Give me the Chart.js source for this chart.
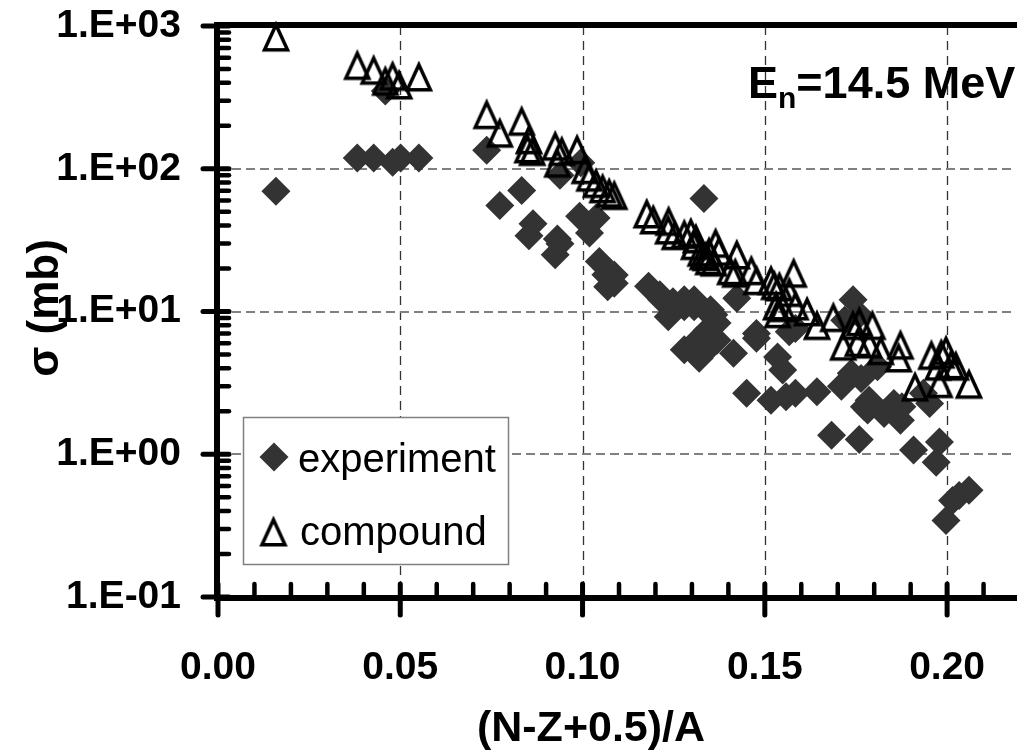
<!DOCTYPE html>
<html><head><meta charset="utf-8">
<script src="https://cdn.jsdelivr.net/npm/chart.js@4"></script>
<style>html,body{margin:0;padding:0;background:#fff;overflow:hidden}#wrap{width:1027px;height:751px;position:relative}</style>
</head><body><div id="wrap"><canvas id="c" width="1027" height="751"></canvas></div>
<script>
// ---- data ----
const xTickValues = [0, 0.05, 0.10, 0.15, 0.20];
const xTickLabels = ['0.00', '0.05', '0.10', '0.15', '0.20'];
const yTickValues = [0.1, 1, 10, 100, 1000];
const yTickLabels = ['1.E-01', '1.E+00', '1.E+01', '1.E+02', '1.E+03'];
const seriesNames = ['experiment', 'compound'];

const expX = [0.0159,0.0382,0.0427,0.0459,0.0479,0.0501,0.0551,0.0737,0.0773,0.0833,0.0853,0.0864,0.0925,0.0931,0.0938,0.0938,0.0992,0.0995,0.1019,0.1037,0.1046,0.1064,0.1069,0.1087,0.1087,0.1181,0.1212,0.1217,0.1235,0.1248,0.1279,0.1279,0.1279,0.1306,0.1306,0.1315,0.1320,0.1333,0.1342,0.1347,0.1351,0.1351,0.1360,0.1369,0.1369,0.1414,0.1423,0.1450,0.1477,0.1477,0.1517,0.1535,0.1549,0.1558,0.1567,0.1584,0.1584,0.1643,0.1683,0.1710,0.1719,0.1737,0.1742,0.1759,0.1759,0.1764,0.1773,0.1782,0.1786,0.1809,0.1827,0.1854,0.1872,0.1876,0.1908,0.1935,0.1952,0.1970,0.1979,0.1997,0.2015,0.2033,0.2060];
const expY = [69.5,119,119,350,111,119,119,135,55.2,70.3,34,41.2,25,32.2,29.8,90,46.4,110,35.5,45.2,22.4,18.1,14.9,18.0,15.8,15.0,13.1,12.1,9.2,11.7,10.8,12.1,5.4,12.1,10.8,6.3,4.7,62,7.4,9.7,10.3,5.7,9.5,8.3,6.3,5.1,12.4,2.67,7.0,6.5,2.39,4.8,3.9,2.53,7.2,7.6,2.67,2.74,1.36,3.0,8.7,3.7,12.1,9.5,1.27,3.4,2.15,2.04,2.39,4.1,1.93,2.27,1.73,2.15,1.07,2.67,2.27,0.88,1.22,0.344,0.475,0.515,0.56];

const compX = [0.0159,0.0382,0.0427,0.0459,0.0479,0.0497,0.0551,0.0737,0.0773,0.0833,0.0849,0.0853,0.0862,0.0925,0.0931,0.0943,0.0985,0.1006,0.1019,0.1037,0.1055,0.1073,0.1087,0.1176,0.1194,0.1236,0.1235,0.1253,0.1279,0.1297,0.1306,0.1311,0.1324,0.1330,0.1338,0.1345,0.1347,0.1360,0.1365,0.1374,0.1405,0.1419,0.1423,0.1463,0.1477,0.1517,0.1526,0.1531,0.1535,0.1540,0.1549,0.1567,0.1579,0.1584,0.1616,0.1643,0.1688,0.1715,0.1742,0.1755,0.1759,0.1786,0.1795,0.1818,0.1867,0.1872,0.1912,0.1957,0.1975,0.1979,0.1984,0.1997,0.2011,0.2024,0.2060];
const compY = [850,537,497,416,451,392,446,243,180,218,140,162,134,146,111,134,138,100,88.6,80,73.5,68.4,65.9,49,44.5,43.4,37.8,34.5,35.1,36,29.4,32.7,26.4,25,24.6,23,26.4,22.5,30.5,26.8,19.6,18.8,25.3,19.6,16.7,16.7,15.4,11.1,9.8,15.1,10.8,13.8,18.8,11.1,10.1,8.1,9.2,5.8,8.1,6.15,8.6,6.0,8.1,5.4,4.8,5.9,3.0,5.0,4.2,3.17,5.1,5.4,4.3,4.2,3.14];

// ---- marker images ----
function makeTriangle(lw) {
  const c = document.createElement('canvas');
  c.width = 36; c.height = 38;
  const g = c.getContext('2d');
  g.strokeStyle = '#000'; g.lineWidth = lw; g.lineJoin = 'miter';
  g.beginPath();
  g.moveTo(18, 7.7); g.lineTo(29.5, 32.7); g.lineTo(6.5, 32.7); g.closePath();
  g.stroke();
  return c;
}
const triImg = makeTriangle(3.5);

const FONT = '"Liberation Sans", Arial, Helvetica, sans-serif';

const decor = {
  id: 'decor',
  beforeDatasetsDraw(chart) {
    const {ctx, chartArea: a, scales: {x, y}} = chart;
    ctx.save();
    ctx.strokeStyle = '#333'; ctx.lineWidth = 1.3; ctx.setLineDash([9, 6]);
    xTickValues.forEach(v => { if (v === 0) return; const px = Math.round(x.getPixelForValue(v)) + 0.5;
      ctx.beginPath(); ctx.moveTo(px, a.top); ctx.lineTo(px, a.bottom); ctx.stroke(); });
    ctx.strokeStyle = '#808080'; ctx.lineWidth = 2; ctx.setLineDash([9, 5]);
    yTickValues.forEach(v => { if (v === 0.1 || v === 1000) return; const py = Math.round(y.getPixelForValue(v));
      ctx.beginPath(); ctx.moveTo(a.left, py); ctx.lineTo(a.right, py); ctx.stroke(); });
    ctx.restore();
  },
  afterDatasetsDraw(chart) {
    const {ctx, chartArea: a, scales: {x, y}} = chart;
    ctx.save();
    ctx.setLineDash([]);
    ctx.strokeStyle = '#000';
    ctx.lineCap = 'round';
    const L = a.left - 1, B = a.bottom + 1, T = a.top - 1;
    ctx.lineWidth = 4.5;
    for (let i = 1; i <= 21; i++) {
      if (i % 5 === 0) continue;
      const px = x.getPixelForValue(i / 100);
      ctx.beginPath(); ctx.moveTo(px, B); ctx.lineTo(px, B - 14); ctx.stroke();
    }
    for (let e = -1; e <= 2; e++) {
      for (let k = 2; k <= 9; k++) {
        const py = y.getPixelForValue(k * Math.pow(10, e));
        ctx.beginPath(); ctx.moveTo(L, py); ctx.lineTo(L + 12, py); ctx.stroke();
      }
    }
    ctx.lineWidth = 5;
    xTickValues.forEach(v => { const px = x.getPixelForValue(v);
      ctx.beginPath(); ctx.moveTo(px, B - 14); ctx.lineTo(px, B + 17); ctx.stroke(); });
    yTickValues.forEach(v => { const py = y.getPixelForValue(v);
      ctx.beginPath(); ctx.moveTo(L - 14, py); ctx.lineTo(L + 12, py); ctx.stroke(); });
    ctx.lineWidth = 6; ctx.lineCap = 'butt';
    ctx.beginPath(); ctx.moveTo(L, T - 3); ctx.lineTo(L, B + 3); ctx.stroke();
    ctx.beginPath(); ctx.moveTo(L - 3, B); ctx.lineTo(a.right + 5, B); ctx.stroke();
    ctx.beginPath(); ctx.moveTo(L - 3, T); ctx.lineTo(a.right + 5, T); ctx.stroke();

    // legend box
    ctx.fillStyle = '#fff';
    ctx.fillRect(243, 417, 265, 147);
    ctx.strokeStyle = '#808080'; ctx.lineWidth = 1.5;
    ctx.strokeRect(243.5, 417.5, 265, 147);
    ctx.fillStyle = '#333333';
    ctx.beginPath(); ctx.moveTo(274 - 14.5, 457); ctx.lineTo(274, 457 - 14.5); ctx.lineTo(274 + 14.5, 457); ctx.lineTo(274, 457 + 14.5); ctx.closePath(); ctx.fill();
    ctx.drawImage(triImg, 273.5 - 18, 531 - 19);
    ctx.fillStyle = '#000';
    ctx.font = '40px ' + FONT;
    ctx.textAlign = 'left'; ctx.textBaseline = 'alphabetic';
    ctx.fillText(seriesNames[0], 298, 472);
    ctx.fillText(seriesNames[1], 300, 545);

    // annotation E_n=14.5 MeV
    ctx.font = 'bold 45px ' + FONT;
    let tx = 748;
    ctx.fillText('E', tx, 98); tx += ctx.measureText('E').width;
    ctx.font = 'bold 30px ' + FONT;
    ctx.fillText('n', tx, 108); tx += ctx.measureText('n').width;
    ctx.font = 'bold 45px ' + FONT;
    ctx.fillText('=14.5 MeV', tx, 98);

    // axis titles
    ctx.font = 'bold 43px ' + FONT;
    ctx.textAlign = 'center';
    ctx.fillText('(N-Z+0.5)/A', 591, 741);
    ctx.save();
    ctx.translate(46, 308); ctx.rotate(-Math.PI / 2);
    ctx.font = 'bold 44px ' + FONT;
    ctx.textBaseline = 'middle';
    ctx.fillText('σ (mb)', 0, 0);
    ctx.restore();
    ctx.restore();
  }
};

new Chart(document.getElementById('c'), {
  type: 'scatter',
  data: {
    datasets: [
      { label: seriesNames[0], order: 1, data: expX.map((v, i) => ({x: v, y: expY[i]})),
        pointStyle: 'rectRot', pointRadius: 14.5, pointHoverRadius: 14.5, backgroundColor: '#333333', borderWidth: 0, clip: false },
      { label: seriesNames[1], order: 0, data: compX.map((v, i) => ({x: v, y: compY[i]})),
        pointStyle: triImg, pointRadius: 15, pointHoverRadius: 15, borderWidth: 0, clip: false }
    ]
  },
  options: {
    responsive: false, animation: false, devicePixelRatio: 1,
    layout: { padding: { top: 26, right: 0, left: 0, bottom: 0 } },
    plugins: { legend: { display: false }, tooltip: { enabled: false }, title: { display: false } },
    scales: {
      x: {
        type: 'linear', min: 0, max: 0.2178,
        grid: { display: false, drawTicks: false }, border: { display: false },
        afterBuildTicks: s => { s.ticks = xTickValues.map(v => ({value: v})); },
        afterFit: s => { s.height = 154; s.paddingLeft = 0; s.paddingRight = 0; s.paddingTop = 0; s.paddingBottom = 0; },
        ticks: { autoSkip: false, maxRotation: 0, padding: 48, color: '#000',
          font: { family: FONT, size: 39, weight: 'bold' },
          callback: (v, i) => xTickLabels[i] }
      },
      y: {
        type: 'logarithmic', min: 0.1, max: 1000,
        grid: { display: false, drawTicks: false }, border: { display: false },
        afterBuildTicks: s => { s.ticks = yTickValues.map(v => ({value: v})); },
        afterFit: s => { s.width = 218; s.paddingLeft = 0; s.paddingRight = 0; s.paddingTop = 0; s.paddingBottom = 0; },
        ticks: { autoSkip: false, padding: 37, color: '#000',
          font: { family: FONT, size: 39, weight: 'bold' },
          callback: (v, i) => yTickLabels[i] }
      }
    }
  },
  plugins: [decor]
});
</script></body></html>
